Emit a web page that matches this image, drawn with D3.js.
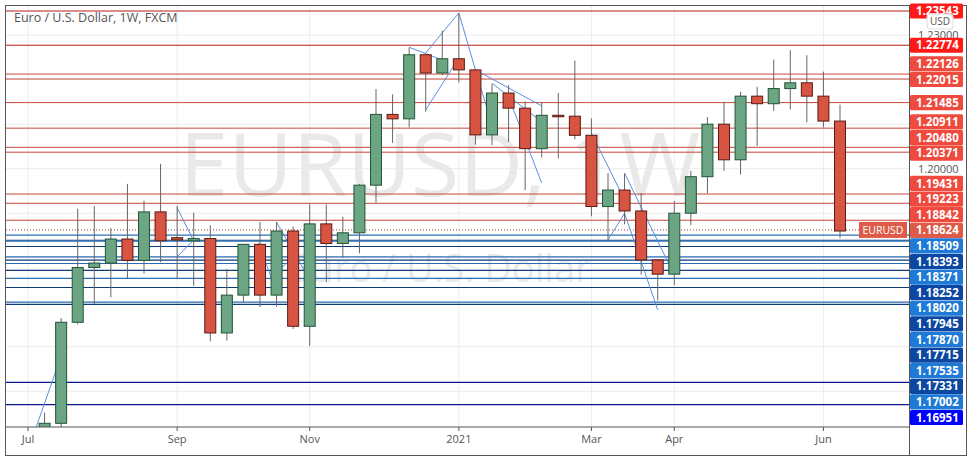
<!DOCTYPE html>
<html>
<head>
<meta charset="utf-8">
<script src="https://cdn.jsdelivr.net/npm/d3@7"></script>
<style>
body { margin: 0; background: #fff; }
text { font-family: "Open Sans", "DejaVu Sans", sans-serif; }
</style>
</head>
<body>
<svg id="chart" width="974" height="463"></svg>
<script>
//Weekly EURUSD candles, first week starts Jul 6 2020
var firstWeek = new Date(2020, 6, 6);
var weeks = d3.range(50).map(function(i) { return d3.timeWeek.offset(firstWeek, i); });

var open  = [1.1248,1.1300,1.1428,1.1655,1.1778,1.1788,1.1842,1.1794,1.1903,1.1845,1.1838,1.1843,1.1631,1.1716,1.1830,1.1716,1.1860,1.1646,1.1876,1.1832,1.1856,1.1963,1.2122,1.2112,1.2256,1.2215,1.2247,1.2222,1.2076,1.2170,1.2136,1.2045,1.2120,1.2118,1.2075,1.1915,1.1952,1.1905,1.1795,1.1763,1.1900,1.1982,1.2100,1.2020,1.2163,1.2146,1.2180,1.2193,1.2163,1.2107];
var close = [1.1300,1.1428,1.1655,1.1778,1.1788,1.1842,1.1794,1.1903,1.1838,1.1840,1.1843,1.1631,1.1716,1.1830,1.1716,1.1860,1.1646,1.1876,1.1832,1.1856,1.1963,1.2122,1.2112,1.2256,1.2215,1.2247,1.2222,1.2076,1.2170,1.2136,1.2045,1.2120,1.2118,1.2075,1.1915,1.1952,1.1905,1.1795,1.1763,1.1900,1.1982,1.2100,1.2020,1.2163,1.2146,1.2180,1.2193,1.2163,1.2107,1.1860];
var high  = [1.1345,1.1452,1.1664,1.1910,1.1916,1.1866,1.1966,1.1928,1.2011,1.1917,1.1901,1.1873,1.1775,1.1831,1.1880,1.1880,1.1870,1.1920,1.1920,1.1892,1.1965,1.2179,1.2167,1.2272,1.2251,1.2310,1.2349,1.2222,1.2190,1.2188,1.2151,1.2150,1.2170,1.2243,1.2113,1.1990,1.1989,1.1945,1.1797,1.1927,1.1995,1.2116,1.2150,1.2173,1.2184,1.2245,1.2266,1.2255,1.2218,1.2144];
var low   = [1.1185,1.1252,1.1370,1.1650,1.1696,1.1711,1.1754,1.1764,1.1790,1.1752,1.1737,1.1612,1.1614,1.1700,1.1689,1.1690,1.1640,1.1602,1.1745,1.1800,1.1810,1.1924,1.2058,1.2093,1.2128,1.2210,1.2194,1.2054,1.2053,1.2060,1.1952,1.2025,1.2023,1.2066,1.1893,1.1835,1.1875,1.1762,1.1704,1.1738,1.1873,1.1945,1.1995,1.1987,1.2051,1.2130,1.2133,1.2104,1.2093,1.1844];

//Horizontal levels
var redLevels  = [1.23543,1.22774,1.22126,1.22015,1.21485,1.20911,1.20480,1.20371,1.19431,1.19223,1.18842];
var blueLevels = [1.18509,1.18393,1.18371,1.18252,1.18020,1.17945,1.17870,1.17715,1.17535,1.17331,1.17002,1.16951];
var extraBlueLines = [1.1520,1.1470];
var lastPrice = 1.18624;

//Time axis ticks
var tickDates  = [new Date(2020,6,6), new Date(2020,8,7), new Date(2020,10,2), new Date(2021,0,4), new Date(2021,2,1), new Date(2021,3,5), new Date(2021,5,7)];
var tickLabels = ["Jul","Sep","Nov","2021","Mar","Apr","Jun"];

//Trend lines as [weekIndex, price] pairs
var trendLines = [
  [[0.48,1.1418],[2.0,1.1579]],
  [[9,1.1912],[10,1.1838]], [[9,1.1802],[10,1.1840]],
  [[13.9,1.1833],[14.8,1.1743]], [[15,1.1880],[17,1.1750]], [[15,1.1766],[16,1.1802]],
  [[23,1.2273],[25,1.2244]], [[24,1.2260],[26,1.2350]], [[26,1.2350],[27,1.2222]],
  [[24,1.2132],[26,1.2249]], [[27,1.2222],[31,1.2141]], [[27,1.2222],[28,1.2098]],
  [[28,1.2192],[31,1.2105]], [[29,1.2161],[31,1.1968]],
  [[34,1.2080],[36,1.1930]], [[35,1.1840],[36,1.1900]], [[36,1.1900],[38,1.1683]], [[36,1.1990],[39,1.1761]]
];

var svg = d3.select("#chart");
var plot = {left: 6, right: 909, top: 6, bottom: 427};

var x = d3.scaleTime()
  .domain([weeks[0], weeks[49]])
  .range([28, 840]);
var y = d3.scaleLinear()
  .domain([1.2, 1.23543])
  .range([168.7, 11]);
var xi = function(i) { return 28 + i * (840 - 28) / 49; };

svg.append("defs").append("clipPath").attr("id", "clip")
  .append("rect").attr("x", plot.left).attr("y", plot.top)
  .attr("width", plot.right - plot.left).attr("height", plot.bottom - plot.top);

var g = svg.append("g").attr("clip-path", "url(#clip)");

//Grid
g.selectAll(".hgrid").data(d3.range(1.14, 1.245, 0.01)).enter().append("line")
  .attr("x1", plot.left).attr("x2", plot.right)
  .attr("y1", function(d) { return y(d); }).attr("y2", function(d) { return y(d); })
  .attr("stroke", "#ececec");
g.selectAll(".vgrid").data(tickDates).enter().append("line")
  .attr("x1", function(d) { return x(d); }).attr("x2", function(d) { return x(d); })
  .attr("y1", plot.top).attr("y2", plot.bottom)
  .attr("stroke", "#ececec");

//Watermark
g.append("text").attr("x", 440).attr("y", 196).attr("text-anchor", "middle")
  .attr("font-size", 88).attr("fill", "#e9e9e9").text("EURUSD, 1W");
g.append("text").attr("x", 440).attr("y", 282).attr("text-anchor", "middle")
  .attr("font-size", 38).attr("fill", "#e6eaf0").text("Euro / U.S. Dollar");

//Level lines
g.selectAll(".red").data(redLevels).enter().append("line")
  .attr("x1", plot.left).attr("x2", plot.right)
  .attr("y1", function(d) { return y(d); }).attr("y2", function(d) { return y(d); })
  .attr("stroke", function(d, i) { return i < 2 ? "#b71c1c" : "#c8473b"; })
  .attr("stroke-width", 1);
g.selectAll(".blue").data(blueLevels).enter().append("line")
  .attr("x1", plot.left).attr("x2", plot.right)
  .attr("y1", function(d) { return y(d); }).attr("y2", function(d) { return y(d); })
  .attr("stroke", function(d, i) { return i % 2 ? "#0d3b7a" : "#2a6fb5"; })
  .attr("stroke-width", 1.2);
g.selectAll(".blue2").data(extraBlueLines).enter().append("line")
  .attr("x1", plot.left).attr("x2", plot.right)
  .attr("y1", function(d) { return y(d); }).attr("y2", function(d) { return y(d); })
  .attr("stroke", "#0a1a8c").attr("stroke-width", 1.2);
g.append("line").attr("x1", plot.left).attr("x2", plot.right)
  .attr("y1", y(lastPrice)).attr("y2", y(lastPrice))
  .attr("stroke", "#b04030").attr("stroke-dasharray", "1,2");

//Trend lines
g.selectAll(".trend").data(trendLines).enter().append("line")
  .attr("x1", function(d) { return xi(d[0][0]); }).attr("y1", function(d) { return y(d[0][1]); })
  .attr("x2", function(d) { return xi(d[1][0]); }).attr("y2", function(d) { return y(d[1][1]); })
  .attr("stroke", "#5b8fe0").attr("stroke-width", 1);

//Candles
var bw = 11;
var candle = g.selectAll(".candle").data(weeks).enter().append("g");
candle.append("line")
  .attr("x1", function(d) { return x(d); }).attr("x2", function(d) { return x(d); })
  .attr("y1", function(d, i) { return y(high[i]); }).attr("y2", function(d, i) { return y(low[i]); })
  .attr("stroke", "#666");
candle.append("rect")
  .attr("x", function(d) { return x(d) - bw / 2; })
  .attr("width", bw)
  .attr("y", function(d, i) { return y(Math.max(open[i], close[i])); })
  .attr("height", function(d, i) { return Math.max(1.5, Math.abs(y(open[i]) - y(close[i]))); })
  .attr("fill", function(d, i) { return close[i] >= open[i] ? "#6ba583" : "#d75442"; })
  .attr("stroke", function(d, i) { return close[i] >= open[i] ? "#225437" : "#5b1a13"; })
  .attr("stroke-width", 1);

//Title
svg.append("text").attr("x", 14).attr("y", 22).attr("font-size", 12.5).attr("fill", "#555")
  .text("Euro / U.S. Dollar, 1W, FXCM");

//Time axis
svg.append("line").attr("x1", plot.left).attr("x2", plot.right)
  .attr("y1", plot.bottom).attr("y2", plot.bottom).attr("stroke", "#555");
svg.selectAll(".tick").data(tickDates).enter().append("line")
  .attr("x1", function(d) { return x(d); }).attr("x2", function(d) { return x(d); })
  .attr("y1", plot.bottom).attr("y2", plot.bottom + 4).attr("stroke", "#555");
svg.selectAll(".tlab").data(tickDates).enter().append("text")
  .attr("x", function(d) { return x(d); }).attr("y", 443)
  .attr("text-anchor", "middle").attr("font-size", 11).attr("fill", "#555")
  .text(function(d, i) { return tickLabels[i]; });

//Frame
svg.append("rect").attr("x", 5.5).attr("y", 5.5).attr("width", 961).attr("height", 450)
  .attr("fill", "none").attr("stroke", "#555");
svg.append("line").attr("x1", plot.right + 0.5).attr("x2", plot.right + 0.5)
  .attr("y1", 6).attr("y2", 455).attr("stroke", "#555");

//Price axis gridline labels
[1.23, 1.20].forEach(function(v) {
  svg.append("text").attr("x", 918).attr("y", y(v) + 4).attr("font-size", 11).attr("fill", "#555")
    .text(d3.format(".5f")(v));
});

//Level labels: red group is spread around each cluster, blue group stacks downward
var gap = 15.6;
var redLabels = redLevels.map(function(v, i) { return {v: v, c: i < 2 ? "#ff1a1a" : "#ee4a3e"}; })
  .concat([{v: lastPrice, c: "#dd5b48"}]);
redLabels.forEach(function(d) { d.y = y(d.v); });
var clusters = redLabels.map(function(d) { return [d]; });
var merged = true;
while (merged) {
  merged = false;
  clusters.forEach(function(c) {
    var mean = d3.mean(c, function(d) { return y(d.v); }) - (c.length > 1 ? 5 : 0);
    var top = mean - (c.length - 1) * gap / 2;
    c.forEach(function(d, k) { d.y = top + k * gap; });
  });
  for (var j = 1; j < clusters.length; j++) {
    var a = clusters[j - 1], b = clusters[j];
    if (b[0].y - a[a.length - 1].y < gap) {
      clusters.splice(j - 1, 2, a.concat(b));
      merged = true;
      break;
    }
  }
}
var prevY = redLabels[redLabels.length - 1].y;
var blueLabels = blueLevels.map(function(v, i) {
  var d = {v: v, c: i === blueLevels.length - 1 ? "#0000ff" : (i % 2 ? "#0c47a1" : "#1e7ad6")};
  d.y = Math.max(y(v), prevY + gap);
  prevY = d.y;
  return d;
});
var labels = redLabels.concat(blueLabels);

var lab = svg.selectAll(".lab").data(labels).enter().append("g")
  .attr("transform", function(d) { return "translate(0," + d.y + ")"; });
lab.append("line").attr("x1", 909).attr("x2", 913).attr("y1", 0).attr("y2", 0).attr("stroke", "#555");
lab.append("rect").attr("x", 910).attr("y", -7.6).attr("width", 53).attr("height", 15.2)
  .attr("rx", 1.5).attr("fill", function(d) { return d.c; });
lab.append("text").attr("x", 916).attr("y", 4.2).attr("font-size", 11.5).attr("font-weight", "bold")
  .attr("fill", "#fff").text(function(d) { return d3.format(".5f")(d.v); });

//Current price tag
svg.append("rect").attr("x", 859).attr("y", y(lastPrice) - 8).attr("width", 48).attr("height", 16)
  .attr("fill", "#dd5b48");
svg.append("text").attr("x", 883).attr("y", y(lastPrice) + 4).attr("text-anchor", "middle")
  .attr("font-size", 10.5).attr("fill", "#fff").text("EURUSD");

//Currency box
svg.append("rect").attr("x", 927).attr("y", 14).attr("width", 26).attr("height", 15).attr("rx", 3)
  .attr("fill", "#fff").attr("stroke", "#ddd");
svg.append("text").attr("x", 940).attr("y", 25).attr("text-anchor", "middle")
  .attr("font-size", 10).attr("fill", "#555").text("USD");
</script>
</body>
</html>
